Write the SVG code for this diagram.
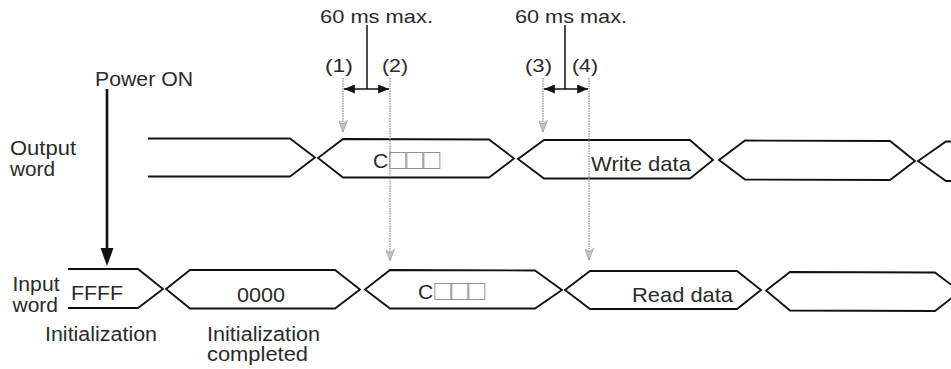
<svg xmlns="http://www.w3.org/2000/svg" width="951" height="369" viewBox="0 0 951 369">
<defs>
<style>
.sig{fill:none;stroke:#111;stroke-width:1.8;stroke-linejoin:miter}
.t{font-family:"Liberation Sans",Arial,sans-serif;font-size:21px;fill:#2a2a2a}
.ti{font-family:"Liberation Sans",Arial,sans-serif;font-size:20px;fill:#2a2a2a}
.ts{font-family:"Liberation Sans",Arial,sans-serif;font-size:19px;fill:#2a2a2a}
.box{font-family:"Noto Sans CJK JP",sans-serif;font-size:21px;letter-spacing:-4px;fill:#808080}
.dot{fill:none;stroke:#999;stroke-width:1.4;stroke-dasharray:1.5 1}
.dim{fill:none;stroke:#111;stroke-width:1.5}
</style>
<marker id="ga" viewBox="0 0 13 10" refX="13" refY="5" markerWidth="13" markerHeight="9" markerUnits="userSpaceOnUse" orient="auto">
<path d="M0,0 L13,5 L0,10 L4,5 Z" fill="#c4c4c4" stroke="#999" stroke-width="0.8"/>
</marker>
<marker id="ba" viewBox="0 0 12 10" refX="12" refY="5" markerWidth="11" markerHeight="9" markerUnits="userSpaceOnUse" orient="auto-start-reverse">
<path d="M0,0 L12,5 L0,10 Z" fill="#111"/>
</marker>
</defs>
<rect width="951" height="369" fill="#fff"/>

<g id="labels">
<text class="ti" x="10" y="154.5" textLength="66" lengthAdjust="spacingAndGlyphs">Output</text>
<text class="ti" x="10" y="175.5" textLength="45" lengthAdjust="spacingAndGlyphs">word</text>
<text class="ti" x="12.5" y="290.5" textLength="47" lengthAdjust="spacingAndGlyphs">Input</text>
<text class="ti" x="12.5" y="312" textLength="45.5" lengthAdjust="spacingAndGlyphs">word</text>
<text class="t" x="95" y="86" textLength="98" lengthAdjust="spacingAndGlyphs">Power ON</text>
<text class="ti" x="45" y="341" textLength="112" lengthAdjust="spacingAndGlyphs">Initialization</text>
<text class="ti" x="207" y="341" textLength="113" lengthAdjust="spacingAndGlyphs">Initialization</text>
<text class="ti" x="207" y="361" textLength="101" lengthAdjust="spacingAndGlyphs">completed</text>
<text class="ts" x="320" y="22.5" textLength="113" lengthAdjust="spacingAndGlyphs">60 ms max.</text>
<text class="ts" x="515" y="22.5" textLength="112" lengthAdjust="spacingAndGlyphs">60 ms max.</text>
<text class="ts" x="325" y="72" textLength="28" lengthAdjust="spacingAndGlyphs">(1)</text>
<text class="ts" x="382" y="72" textLength="26" lengthAdjust="spacingAndGlyphs">(2)</text>
<text class="ts" x="525" y="72" textLength="27" lengthAdjust="spacingAndGlyphs">(3)</text>
<text class="ts" x="572" y="72" textLength="26" lengthAdjust="spacingAndGlyphs">(4)</text>
</g>

<g id="output-word">
<g id="out-seg0"><polyline class="sig" points="148,138.5 290,138.5 315,157.5 290,176.5 148,176.5"/></g>
<g id="out-seg1"><polygon class="sig" points="318,158 343,139 489,139.5 514,158.5 489,177.5 343,177.5"/>
<text x="373" y="168"><tspan class="t">C</tspan><tspan class="box" dx="-1">□□□</tspan></text></g>
<g id="out-seg2"><polygon class="sig" points="518,159 544,140 690,140 713,160 690,178.5 544,178.5"/>
<text class="t" x="591" y="170.5" textLength="100" lengthAdjust="spacingAndGlyphs">Write data</text></g>
<g id="out-seg3"><polygon class="sig" points="719,160 745,140.5 890,141 915,161 890,180 745,179.5"/></g>
<g id="out-seg4"><polyline class="sig" points="953,141.5 946,141.5 918,161 946,181 953,181"/></g>
</g>

<g id="input-word">
<g id="in-seg0"><polyline class="sig" points="68,269 138,269 163,289 138,308 68,308"/>
<text class="t" x="71" y="300" textLength="52" lengthAdjust="spacingAndGlyphs">FFFF</text></g>
<g id="in-seg1"><polygon class="sig" points="166,289 190,270 335,270 360,289.5 335,308.5 190,308.5"/>
<text class="t" x="237" y="302" textLength="48" lengthAdjust="spacingAndGlyphs">0000</text></g>
<g id="in-seg2"><polygon class="sig" points="365,289.5 390,270 535,270.5 562,290 535,308.5 390,308.5"/>
<text x="418" y="299"><tspan class="t">C</tspan><tspan class="box" dx="-1">□□□</tspan></text></g>
<g id="in-seg3"><polygon class="sig" points="565,290 590,271 737,271 761,290 737,309 590,309"/>
<text class="t" x="632" y="301.5" textLength="101" lengthAdjust="spacingAndGlyphs">Read data</text></g>
<g id="in-seg4"><polyline class="sig" points="960,291.5 935,272.5 790,272 766,290.5 790,310.5 935,311 960,291.5"/></g>
</g>

<g id="connectors">
<line x1="107" y1="89" x2="107" y2="250" stroke="#111" stroke-width="2.6"/>
<polygon points="100.5,248 113.5,248 107,266" fill="#111"/>
<line class="dot" x1="343" y1="78" x2="343" y2="132" marker-end="url(#ga)"/>
<line class="dot" x1="390" y1="78" x2="390" y2="261" marker-end="url(#ga)"/>
<line class="dot" x1="543" y1="78" x2="543" y2="132" marker-end="url(#ga)"/>
<line class="dot" x1="589" y1="78" x2="589" y2="260" marker-end="url(#ga)"/>
<line class="dim" x1="367" y1="25" x2="367" y2="89"/>
<line class="dim" x1="344" y1="89" x2="389" y2="89" marker-start="url(#ba)" marker-end="url(#ba)"/>
<line class="dim" x1="565" y1="25" x2="565" y2="89"/>
<line class="dim" x1="544" y1="89" x2="588" y2="89" marker-start="url(#ba)" marker-end="url(#ba)"/>
</g>
</svg>
